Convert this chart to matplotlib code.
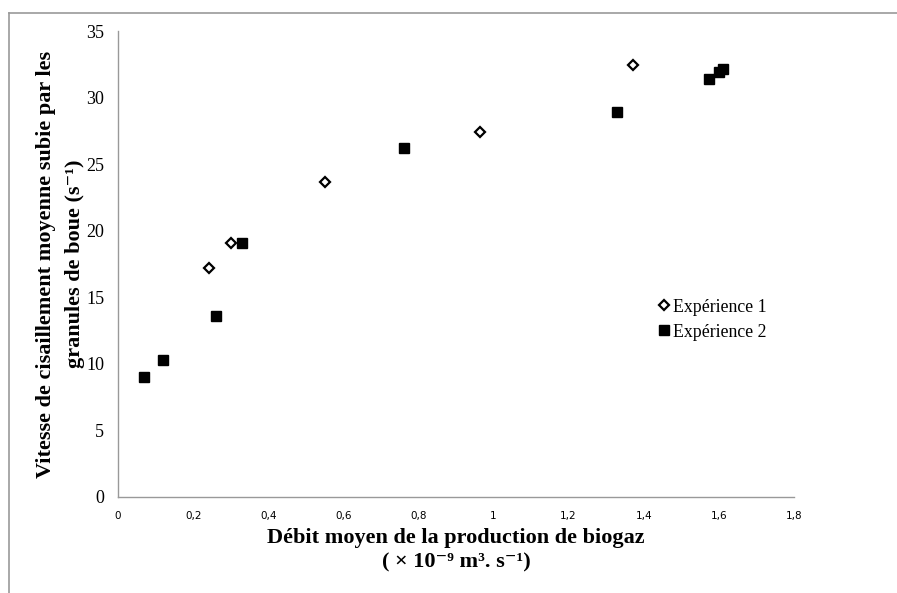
import matplotlib
matplotlib.use("Agg")
import matplotlib.pyplot as plt
from matplotlib.lines import Line2D

# Expérience 1 (losanges vides)
x_exp1 = [0.242, 0.301, 0.551, 0.964, 1.372]
y_exp1 = [17.2, 19.06, 23.69, 27.4, 32.45]

# Expérience 2 (carrés pleins)
x_exp2 = [0.070, 0.119, 0.261, 0.331, 0.761, 1.330, 1.574, 1.601, 1.611]
y_exp2 = [9.04, 10.29, 13.6, 19.06, 26.24, 28.9, 31.43, 31.93, 32.13]

x_ticks = [0, 0.2, 0.4, 0.6, 0.8, 1, 1.2, 1.4, 1.6, 1.8]
x_ticklabels = ["0", "0,2", "0,4", "0,6", "0,8", "1", "1,2", "1,4", "1,6", "1,8"]
y_ticks = [0, 5, 10, 15, 20, 25, 30, 35]

plt.rcParams["font.family"] = ["Liberation Serif", "DejaVu Serif"]

fig = plt.figure(figsize=(8.97, 5.93), dpi=100)
ax = fig.add_axes([0.1316, 0.1619, 0.885 - 0.1316, 0.9477 - 0.1619])

ax.plot(x_exp1, y_exp1, linestyle="none", marker="D", ms=5, mfc="white",
        mec="black", mew=1.6, label="Expérience 1")
ax.plot(x_exp2, y_exp2, linestyle="none", marker="s", ms=7.8, mfc="black",
        mec="black", label="Expérience 2")

ax.set_xlim(0, 1.8)
ax.set_ylim(0, 35)
ax.set_xticks(x_ticks)
ax.set_xticklabels(x_ticklabels, fontsize=7.5, family="DejaVu Sans")
ax.set_yticks(y_ticks)
ax.tick_params(axis="y", labelsize=13, length=0, pad=10)
ax.tick_params(axis="x", length=0, pad=10)

for side in ["top", "right"]:
    ax.spines[side].set_visible(False)
for side in ["left", "bottom"]:
    ax.spines[side].set_color("#999999")
    ax.spines[side].set_linewidth(1.0)

ax.set_xlabel("Débit moyen de la production de biogaz\n( × 10⁻⁹ m³. s⁻¹)",
              fontsize=16, fontweight="bold", linespacing=1.3, labelpad=5)
ax.set_ylabel("Vitesse de cisaillement moyenne subie par les\n"
              "granules de boue (s⁻¹)",
              fontsize=16, fontweight="bold", linespacing=1.55, labelpad=1)

ax.legend(loc="upper left", bbox_to_anchor=(0.79, 0.441), frameon=False,
          fontsize=12.8, handlelength=0.6, handletextpad=0.2,
          labelspacing=0.45, borderaxespad=0)

# cadre gris (haut et gauche) autour du graphique
fig.add_artist(Line2D([9 / 897, 1], [1 - 13 / 593, 1 - 13 / 593],
                      transform=fig.transFigure, color="#999999", lw=1.2))
fig.add_artist(Line2D([9 / 897, 9 / 897], [0, 1 - 13 / 593],
                      transform=fig.transFigure, color="#999999", lw=1.2))

fig.savefig("out.png", dpi=100)
